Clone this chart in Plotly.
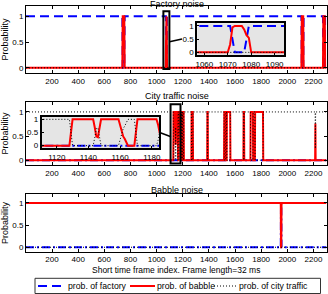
import plotly.graph_objects as go

# ---------------- data ----------------
# Factory noise subplot
f_red_x = [1, 738, 741, 753, 756, 1070, 1071, 1072, 1073, 1076, 1077, 1078, 1079, 1080,
           2108, 2111, 2122, 2125, 2273, 2276, 2287, 2290, 2300]
f_red_y = [0, 0, 1, 1, 0, 0, 0.3, 0.95, 1, 1, 0.87, 0.65, 0.55, 0,
           0, 1, 1, 0, 0, 1, 1, 0, 0]
f_blue_x = [1, 738, 741, 753, 756, 1071, 1073, 1077, 1079, 2108, 2111, 2122, 2125,
            2273, 2276, 2287, 2290, 2300]
f_blue_y = [1, 1, 0, 0, 1, 1, 0, 0, 1, 1, 0, 0, 1, 1, 0, 0, 1, 1]
f_black_x = [1, 2300]
f_black_y = [0, 0]

# City traffic noise subplot
c_x = [1, 1128, 1130, 1143, 1144, 1145, 1146, 1147, 1148, 1159, 1160, 1161, 1162, 1163,
       1164, 1165, 1169, 1171, 1183, 1184, 1185, 1187, 1190, 1192, 1196, 1198, 1201,
       1203, 1207, 1209, 1266, 1268, 1277, 1279, 1387, 1389, 1391, 1393, 1516, 1518,
       1529, 1531, 1536, 1538, 1563, 1565, 1664, 1666, 1669, 1671, 1718, 1720, 1737,
       1739, 1752, 1754, 1814, 1816, 2213, 2215, 2217, 2300]
c_red_y = [0, 0, 1, 1, 0.7, 0.35, 0.32, 0.6, 1, 1, 0.75, 0.5, 0.35, 0.25,
           0.1, 0, 0, 1, 1, 0.8, 0.5, 0, 0, 1, 1, 0, 0,
           1, 1, 0, 0, 1, 1, 0, 0, 1, 1, 0, 0, 1,
           1, 0, 0, 1, 1, 0, 0, 1, 1, 0, 0, 1, 1,
           0, 0, 1, 1, 0, 0, 0.76, 0, 0]
c_black_y = [1, 1, 0, 0, 0.3, 0.65, 0.68, 0.4, 0, 0, 0.25, 0.5, 0.65, 0.75,
             0.9, 1, 1, 0, 0, 0.2, 0.5, 1, 1, 0, 0, 1, 1,
             0, 0, 1, 1, 0, 0, 1, 1, 0, 0, 1, 1, 0,
             0, 1, 1, 0, 0, 1, 1, 0, 0, 1, 1, 0, 0,
             1, 1, 0, 0, 1, 1, 0.24, 1, 1]
c_blue_x = [1, 2300]
c_blue_y = [0, 0]

# Babble noise subplot
b_x = [1, 1950, 1952, 1954, 1956, 2300]
b_red_y = [1, 1, 0, 0, 1, 1]
b_blue_y = [0, 0, 1, 1, 0, 0]
b_black_x = [1, 2300]
b_black_y = [0, 0]

x_ticks = [200, 400, 600, 800, 1000, 1200, 1400, 1600, 1800, 2000, 2200]
y_ticks = [0, 0.5, 1]
y_tick_text = ["0", "0.5", "1"]
inset1_ticks = [1060, 1070, 1080, 1090]
inset2_ticks = [1120, 1140, 1160, 1180]

titles = ["Factory noise", "City traffic noise", "Babble noise"]
y_label = "Probability"
x_label = "Short time frame index. Frame length=32 ms"
names = ["prob. of factory", "prob. of babble", "prob. of city traffic"]

# ---------------- styling / layout ----------------
W, H = 328, 294
FONT = "Liberation Sans, Arial, Helvetica, sans-serif"


def px(x):
    return x / W


def py(y):
    return 1 - y / H


BLUE = "#0000ff"
RED = "#ff0000"
DASH = "9px,5px"
DASHDOT = "8px,3px,2px,3px"
DOT = "1px,2px"

fig = go.Figure()


def add(x, y, color, dash, width, xa, ya, name=None):
    fig.add_trace(go.Scatter(x=x, y=y, mode="lines", name=name, showlegend=False,
                             line=dict(color=color, dash=dash, width=width),
                             xaxis=xa, yaxis=ya, hoverinfo="skip"))


# top main + inset
for xa, ya in [("x", "y"), ("x2", "y2")]:
    add(f_blue_x, f_blue_y, BLUE, DASH, 2, xa, ya, names[0])
    add(f_red_x, f_red_y, RED, "solid", 2, xa, ya, names[1])
    add(f_black_x, f_black_y, "black", DOT, 1, xa, ya, names[2])
# middle main + inset
for xa, ya in [("x3", "y3"), ("x4", "y4")]:
    add(c_blue_x, c_blue_y, BLUE, DASHDOT, 2, xa, ya, names[0])
    add(c_x, c_red_y, RED, "solid", 2, xa, ya, names[1])
    add(c_x, c_black_y, "black", DOT, 1, xa, ya, names[2])
# bottom
add(b_x, b_blue_y, BLUE, DASHDOT, 2, "x5", "y5", names[0])
add(b_x, b_red_y, RED, "solid", 2, "x5", "y5", names[1])
add(b_black_x, b_black_y, "black", DOT, 1, "x5", "y5", names[2])

main_xd = [px(26), px(326.5)]
tick_font = dict(family=FONT, size=8, color="black")


def main_x(anchor, dom):
    return dict(domain=dom, anchor=anchor, range=[1, 2300], tickvals=x_ticks,
                ticks="inside", ticklen=3, tickcolor="black",
                showline=True, linecolor="black", linewidth=1, mirror="ticks",
                showgrid=False, zeroline=False, tickfont=tick_font, fixedrange=True)


def main_y(anchor, dom):
    return dict(domain=dom, anchor=anchor, range=[-0.1, 1.2], tickvals=y_ticks,
                ticktext=y_tick_text, ticks="inside", ticklen=3, tickcolor="black",
                showline=True, linecolor="black", linewidth=1, mirror="ticks",
                showgrid=False, zeroline=False, tickfont=tick_font, fixedrange=True)


def inset_x(anchor, dom, rng, tv):
    return dict(domain=dom, anchor=anchor, range=rng, tickvals=tv, ticks="inside",
                ticklen=2, tickcolor="black", showline=True, linecolor="black",
                linewidth=2, mirror=True, showgrid=False, zeroline=False,
                tickfont=tick_font, fixedrange=True)


def inset_y(anchor, dom):
    return dict(domain=dom, anchor=anchor, range=[-0.1, 1.1], tickvals=y_ticks,
                ticktext=y_tick_text, ticks="inside", ticklen=2, tickcolor="black",
                showline=True, linecolor="black", linewidth=2, mirror=True,
                showgrid=False, zeroline=False, tickfont=tick_font, fixedrange=True)


top_yd = [py(73), py(6)]
mid_yd = [py(165), py(102.3)]
bot_yd = [py(251.7), py(194)]
in1_xd = [px(197.3), px(284)]
in1_yd = [py(55), py(23.3)]
in2_xd = [px(41.7), px(159)]
in2_yd = [py(148.3), py(116.7)]

LEG_Y = 286
shapes = [
    # gray inset backgrounds
    dict(type="rect", xref="paper", yref="paper", x0=in1_xd[0], x1=in1_xd[1],
         y0=in1_yd[0], y1=in1_yd[1], fillcolor="#e5e5e5", line=dict(width=0), layer="below"),
    dict(type="rect", xref="paper", yref="paper", x0=in2_xd[0], x1=in2_xd[1],
         y0=in2_yd[0], y1=in2_yd[1], fillcolor="#e5e5e5", line=dict(width=0), layer="below"),
    # zoom rectangles
    dict(type="rect", xref="x", yref="y", x0=1052, x1=1098, y0=-0.02, y1=1.1,
         line=dict(color="black", width=2)),
    dict(type="rect", xref="x3", yref="y3", x0=1107, x1=1183, y0=-0.07, y1=1.16,
         line=dict(color="black", width=2)),
    # connectors
    dict(type="line", xref="paper", yref="paper", x0=px(169.5), y0=py(41.7),
         x1=px(182), y1=py(39), line=dict(color="black", width=1.5)),
    dict(type="line", xref="paper", yref="paper", x0=px(159), y0=py(132.3),
         x1=px(171), y1=py(136.7), line=dict(color="black", width=1.5)),
    # legend box and samples
    dict(type="rect", xref="paper", yref="paper", x0=px(35), x1=px(320.5),
         y0=py(293.5), y1=py(278.3), fillcolor="white", line=dict(color="#333333", width=1)),
    dict(type="line", xref="paper", yref="paper", x0=px(38), x1=px(65.5), y0=py(LEG_Y),
         y1=py(LEG_Y), line=dict(color=BLUE, dash=DASH, width=2)),
    dict(type="line", xref="paper", yref="paper", x0=px(130), x1=px(155), y0=py(LEG_Y),
         y1=py(LEG_Y), line=dict(color=RED, width=2)),
    dict(type="line", xref="paper", yref="paper", x0=px(214), x1=px(236), y0=py(LEG_Y),
         y1=py(LEG_Y), line=dict(color="black", dash=DOT, width=1)),
]

ann_font = dict(family=FONT, size=9, color="black")
annotations = []
for t, yc in zip(titles, [4.5, 96, 190]):
    annotations.append(dict(text=t, x=px(176.5), y=py(yc), xref="paper", yref="paper",
                            showarrow=False, xanchor="center", yanchor="middle",
                            font=ann_font))
for yc in [39.5, 133.6, 223]:
    annotations.append(dict(text=y_label, x=px(5), y=py(yc), xref="paper", yref="paper",
                            showarrow=False, textangle=-90, xanchor="center",
                            yanchor="middle", font=ann_font))
annotations.append(dict(text=x_label, x=px(176), y=py(270), xref="paper", yref="paper",
                        showarrow=False, xanchor="center", yanchor="middle",
                        font=dict(family=FONT, size=8.5, color="black")))
for name, xl in zip(names, [67, 156, 238]):
    annotations.append(dict(text=name, x=px(xl), y=py(LEG_Y), xref="paper", yref="paper",
                            showarrow=False, xanchor="left", yanchor="middle",
                            borderpad=0, font=dict(family=FONT, size=8.7, color="black")))

fig.update_layout(
    width=W, height=H, margin=dict(l=0, r=0, t=0, b=0, autoexpand=False),
    paper_bgcolor="white", plot_bgcolor="rgba(0,0,0,0)",
    font=dict(family=FONT, size=8, color="black"),
    xaxis=main_x("y", main_xd), yaxis=main_y("x", top_yd),
    xaxis2=inset_x("y2", in1_xd, [1057, 1094], inset1_ticks), yaxis2=inset_y("x2", in1_yd),
    xaxis3=main_x("y3", main_xd), yaxis3=main_y("x3", mid_yd),
    xaxis4=inset_x("y4", in2_xd, [1110.5, 1184.6], inset2_ticks), yaxis4=inset_y("x4", in2_yd),
    xaxis5=main_x("y5", main_xd), yaxis5=main_y("x5", bot_yd),
    shapes=shapes, annotations=annotations,
    showlegend=False,
)

fig.write_html("out.html", config={"displayModeBar": False},
               post_script="document.body.style.margin='0px';")
